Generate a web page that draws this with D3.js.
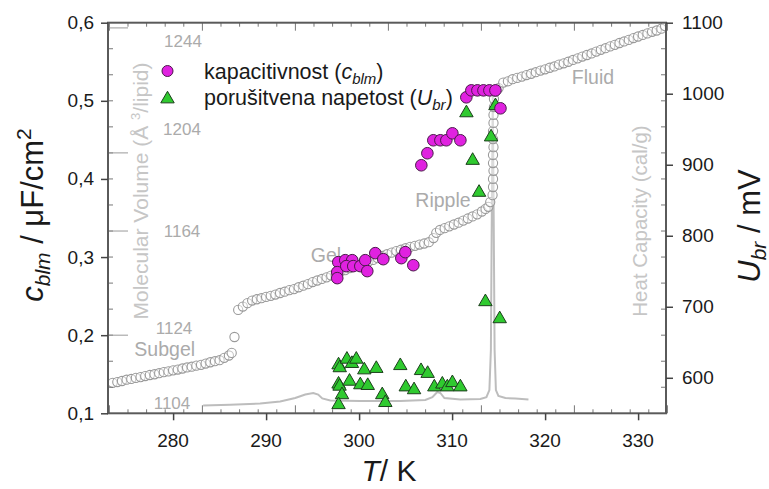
<!DOCTYPE html>
<html>
<head>
<meta charset="utf-8">
<script src="https://cdn.jsdelivr.net/npm/d3@7"></script>
<style>
  html, body { margin: 0; padding: 0; background: #fff; overflow: hidden; }
  svg { display: block; font-family: "Liberation Sans", Arial, sans-serif; }
</style>
</head>
<body>
<div id="box"></div>
<script>
// capacitance c_blm (left axis, uF/cm2)
const capT = [297.76, 297.65, 297.65, 298.51, 299.26, 298.62, 299.37, 300.13, 300.66, 300.88, 301.74, 302.60, 304.54, 304.97, 305.83,
  306.69, 307.34, 307.98, 308.74, 309.38, 310.03, 310.89, 311.53, 312.07, 312.72, 313.37, 314.01, 314.66, 315.20];
const capC = [0.2935, 0.2807, 0.2730, 0.2960, 0.2960, 0.2884, 0.2884, 0.2884, 0.2960, 0.2820, 0.3050, 0.2973, 0.2986, 0.3063, 0.2896,
  0.4175, 0.4329, 0.4495, 0.4495, 0.4495, 0.4584, 0.4495, 0.5045, 0.5134, 0.5134, 0.5134, 0.5134, 0.5134, 0.4904];

// breakdown voltage U_br (right axis, mV)
const brT = [311.54, 314.66, 314.19, 312.21, 312.90, 313.58, 315.12,
  297.79, 297.92, 298.69, 299.23, 299.70, 300.56, 301.85, 304.43, 306.66, 307.37,
  297.79, 297.90, 298.97, 300.13, 300.93, 305.02, 305.91, 308.09, 308.95, 309.49, 310.03, 310.89,
  298.16, 297.79, 302.49, 302.82];
const brU = [973, 983, 939, 906, 861, 707, 683,
  618, 614, 626, 620, 626, 611, 613, 617, 610, 606,
  591, 588, 595, 590, 589, 587, 583, 587, 591, 587, 593, 587,
  576, 562, 576, 565];

// background: molecular volume (A^3/lipid) vs T
const volT = [273.5, 274, 274.5, 275, 275.5, 276, 276.5, 277, 277.5, 278, 278.5, 279, 279.5, 280, 280.5, 281, 281.5, 282, 282.5, 283,
  283.5, 284, 284.5, 285, 285.5, 286, 286.3, 286.6,
  287, 287.5, 288, 288.5, 289, 289.5, 290, 290.5, 291, 291.5, 292, 292.5, 293, 293.5, 294, 294.5, 295, 295.5, 296, 296.5,
  297, 297.5, 298, 298.5, 299, 299.5, 300, 300.5, 301, 301.5, 302, 302.5, 303, 303.5, 304, 304.5, 305, 305.5, 306, 306.5,
  307, 307.5, 308, 308.3,
  308.7, 309.2, 309.7, 310.2, 310.7, 311.2, 311.7, 312.2, 312.7, 313.2, 313.6, 313.9, 314.1,
  314.35, 314.4, 314.4, 314.45, 314.4, 314.4, 314.45, 314.4, 314.4, 314.45, 314.45, 314.5, 314.5,
  314.6, 315, 315.5, 316, 316.5, 317, 317.5, 318, 318.5, 319, 319.5, 320, 320.5, 321, 321.5, 322, 322.5, 323, 323.5, 324,
  324.5, 325, 325.5, 326, 326.5, 327, 327.5, 328, 328.5, 329, 329.5, 330, 330.5, 331, 331.5, 332, 332.5, 332.9];
const volV = [1105.7, 1106.0, 1106.4, 1106.9, 1107.2, 1107.6, 1107.9, 1108.3, 1108.7, 1109.0, 1109.4, 1109.8, 1110.1, 1110.5, 1110.8,
  1111.2, 1111.6, 1111.9, 1112.3, 1112.6, 1113.1, 1113.6, 1114.0, 1114.4, 1115.3, 1116.2, 1117.2, 1123.3,
  1133.7, 1135.0, 1136.3, 1137.3, 1137.8, 1138.2, 1138.7, 1139.1, 1139.6, 1140.2, 1140.7, 1141.3, 1141.7, 1142.4, 1143.0, 1143.6,
  1144.4, 1145.0, 1145.6, 1146.2, 1146.9, 1147.6, 1148.4, 1149.0, 1149.8, 1150.4, 1151.0, 1151.7, 1152.3, 1152.9, 1153.6, 1154.4,
  1155.1, 1155.7, 1156.3, 1156.8, 1157.4, 1157.9, 1158.3, 1158.8, 1159.2, 1159.7, 1161.3, 1163.3,
  1164.4, 1165.1, 1165.8, 1166.5, 1167.2, 1168.0, 1168.8, 1169.6, 1170.4, 1171.5, 1172.5, 1173.3, 1175.1,
  1177.8, 1180.9, 1184.0, 1187.1, 1190.1, 1193.2, 1196.2, 1199.3, 1202.4, 1205.5, 1208.6, 1211.6, 1214.7,
  1217.4, 1218.9, 1221.0, 1221.5, 1222.3, 1222.8, 1223.3, 1223.9, 1224.4, 1225.0, 1225.6, 1226.1, 1226.7, 1227.2, 1227.9, 1228.4,
  1229.0, 1229.7, 1230.3, 1231.0, 1231.6, 1232.2, 1232.9, 1233.6, 1234.2, 1234.9, 1235.5, 1236.2, 1236.8, 1237.4, 1238.1, 1238.7,
  1239.3, 1239.9, 1240.5, 1241.0, 1241.7, 1242.7];

// background: heat capacity (cal/g) vs T
const hcT = [283.23, 286.13, 289.36, 291.51, 293.13, 294.21, 295.07, 295.60, 296.04, 296.90, 300.13, 304.43, 307.12, 307.88, 308.41,
  308.74, 309.17, 310.89, 313.04, 313.69, 314.01, 314.17, 314.28, 314.37, 314.46, 314.57, 314.71, 314.98, 315.73, 316.81, 318.21];
const hcCp = [0.40, 0.44, 0.50, 0.60, 0.78, 0.96, 1.04, 0.96, 0.76, 0.66, 0.63, 0.63, 0.68, 0.83, 1.09,
  1.04, 0.78, 0.71, 0.73, 0.83, 1.19, 3.24, 10.92, 16.30, 10.92, 3.24, 1.19, 0.89, 0.78, 0.76, 0.71];

// tick values
const xTicks = [280, 290, 300, 310, 320, 330];
const cTicks = [0.1, 0.2, 0.3, 0.4, 0.5, 0.6];
const uTicks = [600, 700, 800, 900, 1000, 1100];
const bgCelsius = d3.range(0, 61, 2);
const bgVolTicks = d3.range(1104, 1244, 10);
const bgVolLong = [1124, 1164, 1194, 1242];

// grey annotations of the background figure
const bgLabels = ['1244', '1204', '1164', '1124', '1104', 'Subgel', 'Gel', 'Ripple', 'Fluid'];
const bgLabelT = [281.06, 280.96, 280.96, 280.1, 279.88, 279.1, 296.44, 309.02, 325.15];
const bgLabelV = [1237.0, 1203.2, 1164.0, 1126.8, 1098.0, 1118.7, 1154.8, 1175.9, 1223.1];

const width = 769;
const height = 489;
const padLeft = 108;
const padRight = 103;
const padTop = 22.7;
const padBottom = 75.7;
const innerWidth = width - padLeft - padRight;
const innerHeight = height - padTop - padBottom;

// scales in page coordinates
const x = d3.scaleLinear().domain([273, 333]).range([padLeft, padLeft + innerWidth]);
const yC = d3.scaleLinear().domain([0.1, 0.6]).range([padTop + innerHeight, padTop]);
const yU = d3.scaleLinear().domain([550, 1100]).range([padTop + innerHeight, padTop]);
const yVol = d3.scaleLinear().domain([1094, 1244]).range([padTop + innerHeight, padTop]);
const yCp = d3.scaleLinear().domain([0, 20]).range([padTop + innerHeight, padTop]);

const svg = d3.select('#box').append('svg')
  .attr('width', width)
  .attr('height', height)
  .attr('viewBox', `0 0 ${width} ${height}`);

svg.append('defs').append('clipPath').attr('id', 'clip')
  .append('rect').attr('x', padLeft).attr('y', padTop).attr('width', innerWidth).attr('height', innerHeight);

// background figure
const bg = svg.append('g').attr('clip-path', 'url(#clip)');

bg.append('path')
  .datum(hcT.map((t, i) => [t, hcCp[i]]))
  .attr('fill', 'none')
  .attr('stroke', '#bdbdbd')
  .attr('stroke-width', 2)
  .attr('d', d3.line().x(d => x(d[0])).y(d => yCp(d[1])));

bg.selectAll('.vol').data(volT.map((t, i) => [t, volV[i]]))
  .join('circle')
  .attr('class', 'vol')
  .attr('cx', d => x(d[0]))
  .attr('cy', d => yVol(d[1]))
  .attr('r', 4.6)
  .attr('fill', '#fff')
  .attr('fill-opacity', 0.45)
  .attr('stroke', '#9a9a9a')
  .attr('stroke-width', 1.1);

// background ticks (deg C on top/bottom, volume on left/right)
const x0 = padLeft, x1 = padLeft + innerWidth, y0 = padTop, y1 = padTop + innerHeight;
const bgTicks = svg.append('g').attr('stroke', '#777').attr('stroke-width', 1);
bgCelsius.forEach(d => {
  const px = x(273.15 + d);
  const len = d % 10 === 0 ? 8 : 4;
  bgTicks.append('line').attr('x1', px).attr('x2', px).attr('y1', y0).attr('y2', y0 + len);
  bgTicks.append('line').attr('x1', px).attr('x2', px).attr('y1', y1).attr('y2', y1 - len);
});
bgVolTicks.forEach(v => {
  bgTicks.append('line').attr('x1', x0).attr('x2', x0 + 5).attr('y1', yVol(v)).attr('y2', yVol(v));
  bgTicks.append('line').attr('x1', x1).attr('x2', x1 - 5).attr('y1', yVol(v)).attr('y2', yVol(v));
});
bgVolLong.forEach(v => {
  bgTicks.append('line').attr('x1', x0).attr('x2', x0 + 20).attr('y1', yVol(v)).attr('y2', yVol(v))
    .attr('stroke', '#999');
});

svg.selectAll('.bgLabel').data(bgLabels)
  .join('text')
  .attr('class', 'bgLabel')
  .attr('x', (d, i) => x(bgLabelT[i]))
  .attr('y', (d, i) => yVol(bgLabelV[i]))
  .attr('dy', '0.35em')
  .attr('text-anchor', 'middle')
  .style('font-size', d => /^\d/.test(d) ? '17px' : '19.5px')
  .style('fill', '#ababab')
  .text(d => d);

// rotated text placed with absolute x/y and rotate about that point
function vtext(cx, cy) {
  return svg.append('text')
    .attr('x', cx).attr('y', cy)
    .attr('transform', `rotate(-90, ${cx}, ${cy})`)
    .attr('text-anchor', 'middle');
}

const molLabel = vtext(148, 191).style('font-size', '21px').style('fill', '#c6c6c6');
molLabel.append('tspan').text('Molecular Volume (Å ');
molLabel.append('tspan').attr('dy', -8).style('font-size', '13px').text('3');
molLabel.append('tspan').attr('dy', 8).text('/lipid)');

vtext(647, 221).style('font-size', '20.5px').style('fill', '#c6c6c6')
  .text('Heat Capacity (cal/g)');

// frame
svg.append('rect')
  .attr('x', x0).attr('y', y0)
  .attr('width', innerWidth)
  .attr('height', innerHeight)
  .attr('fill', 'none')
  .attr('stroke', '#5a5a5a')
  .attr('stroke-width', 2);

// axes: d3 draws the tick marks, labels are set in page coordinates from the same scales
const comma = d => d.toFixed(1).replace('.', ',');

const leftAxis = svg.append('g')
  .attr('transform', `translate(${x0}, 0)`)
  .call(d3.axisLeft(yC).tickValues(cTicks).tickSize(7));
const bottomAxis = svg.append('g')
  .attr('transform', `translate(0, ${y1})`)
  .call(d3.axisBottom(x).tickValues(xTicks).tickSize(7));
const rightAxis = svg.append('g')
  .attr('transform', `translate(${x1}, 0)`)
  .call(d3.axisRight(yU).tickValues(uTicks).tickSize(7));

[leftAxis, bottomAxis, rightAxis].forEach(a => {
  a.select('.domain').remove();
  a.selectAll('text').remove();
  a.selectAll('line').attr('stroke', '#444').attr('stroke-width', 1.5);
});

const tickLabels = svg.append('g').style('font-size', '19px').style('fill', '#1a1a1a');
tickLabels.selectAll('.lt').data(cTicks)
  .join('text')
  .attr('class', 'lt')
  .attr('x', x0 - 14)
  .attr('y', d => yC(d))
  .attr('dy', '0.34em')
  .attr('text-anchor', 'end')
  .text(comma);
tickLabels.selectAll('.bt').data(xTicks)
  .join('text')
  .attr('class', 'bt')
  .attr('x', d => x(d))
  .attr('y', y1 + 34)
  .attr('text-anchor', 'middle')
  .text(d => d);
tickLabels.selectAll('.rt').data(uTicks)
  .join('text')
  .attr('class', 'rt')
  .attr('x', x1 + 16)
  .attr('y', d => yU(d))
  .attr('dy', '0.34em')
  .text(d => d);

// breakdown voltage triangles
const tri = d3.symbol().type(d3.symbolTriangle).size(78);
svg.selectAll('.br').data(brT.map((t, i) => [t, brU[i]]))
  .join('path')
  .attr('class', 'br')
  .attr('d', tri)
  .attr('transform', d => `translate(${x(d[0])}, ${yU(d[1])})`)
  .attr('fill', '#2fca2f')
  .attr('stroke', '#1c3f1c')
  .attr('stroke-width', 1);

// capacitance circles
svg.selectAll('.cap').data(capT.map((t, i) => [t, capC[i]]))
  .join('circle')
  .attr('class', 'cap')
  .attr('cx', d => x(d[0]))
  .attr('cy', d => yC(d[1]))
  .attr('r', 5.8)
  .attr('fill', '#e022e0')
  .attr('stroke', '#4a1a4a')
  .attr('stroke-width', 1);

// legend
const legend = svg.append('g').style('font-size', '21.5px').style('fill', '#1a1a1a');
legend.append('circle')
  .attr('cx', 167.5).attr('cy', 71).attr('r', 5.5)
  .attr('fill', '#e022e0').attr('stroke', '#4a1a4a');
legend.append('path')
  .attr('d', tri)
  .attr('transform', 'translate(167.5, 99)')
  .attr('fill', '#2fca2f').attr('stroke', '#1c3f1c');

const l1 = legend.append('text').attr('x', 204).attr('y', 79);
l1.append('tspan').text('kapacitivnost (');
l1.append('tspan').style('font-style', 'italic').text('c');
l1.append('tspan').style('font-style', 'italic').style('font-size', '15px').attr('dy', 5).text('blm');
l1.append('tspan').attr('dy', -5).text(')');

const l2 = legend.append('text').attr('x', 204).attr('y', 105);
l2.append('tspan').text('porušitvena napetost (');
l2.append('tspan').style('font-style', 'italic').text('U');
l2.append('tspan').style('font-style', 'italic').style('font-size', '15px').attr('dy', 5).text('br');
l2.append('tspan').attr('dy', -5).text(')');

// axis titles
const yTitle = vtext(43, 215).style('font-size', '31px').style('fill', '#1a1a1a');
yTitle.append('tspan').style('font-style', 'italic').text('c');
yTitle.append('tspan').style('font-style', 'italic').style('font-size', '21px').attr('dy', 7).text('blm');
yTitle.append('tspan').attr('dy', -7).text(' / μF/cm');
yTitle.append('tspan').style('font-size', '21px').attr('dy', -12).text('2');

const uTitle = vtext(760, 226).style('font-size', '31px').style('fill', '#1a1a1a');
uTitle.append('tspan').style('font-style', 'italic').text('U');
uTitle.append('tspan').style('font-style', 'italic').style('font-size', '21px').attr('dy', 6).text('br');
uTitle.append('tspan').attr('dy', -6).text(' / mV');

const xTitle = svg.append('text')
  .attr('x', 389).attr('y', 481)
  .attr('text-anchor', 'middle')
  .style('font-size', '30px')
  .style('fill', '#1a1a1a');
xTitle.append('tspan').style('font-style', 'italic').text('T');
xTitle.append('tspan').text('/ K');
</script>
</body>
</html>
